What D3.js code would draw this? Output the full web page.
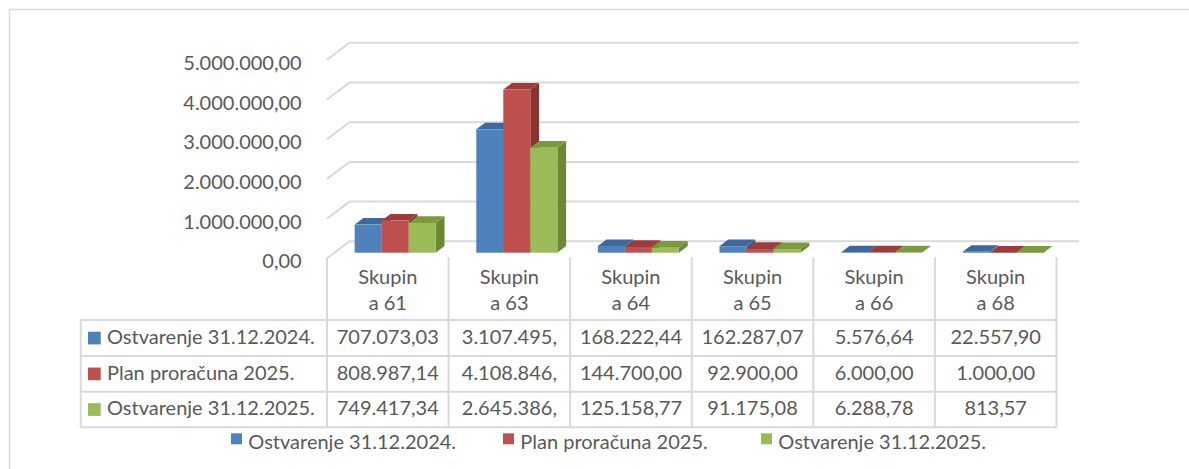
<!DOCTYPE html>
<html><head><meta charset="utf-8">
<script src="https://cdn.jsdelivr.net/npm/d3@7"></script>
<style>
body{margin:0;background:#fff}
svg{display:block}
text{font-family:Lato,"Noto Sans",sans-serif;fill:#595959;font-size:20px}
</style>
</head><body>
<svg id="c" width="1189" height="469"></svg>
<script>
// ---- data ----
const categories = ["Skupina 61","Skupina 63","Skupina 64","Skupina 65","Skupina 66","Skupina 68"];
const seriesNames = ["Ostvarenje 31.12.2024.","Plan proračuna 2025.","Ostvarenje 31.12.2025."];
const ostvarenje2024 = [707073.03, 3107495, 168222.44, 162287.07, 5576.64, 22557.90];
const plan2025 = [808987.14, 4108846, 144700.00, 92900.00, 6000.00, 1000.00];
const ostvarenje2025 = [749417.34, 2645386, 125158.77, 91175.08, 6288.78, 813.57];
const labels2024 = ["707.073,03","3.107.495,","168.222,44","162.287,07","5.576,64","22.557,90"];
const labelsPlan2025 = ["808.987,14","4.108.846,","144.700,00","92.900,00","6.000,00","1.000,00"];
const labels2025 = ["749.417,34","2.645.386,","125.158,77","91.175,08","6.288,78","813,57"];
const yTicks = [0,1000000,2000000,3000000,4000000,5000000];
const colors = ["#4f81bd","#c0504d","#9bbb59"];
const topColors = ["#3d689c","#9a3d3b","#7b9a3f"];
const sideColors = ["#365d8c","#8a3432","#6b8834"];

const seriesValues = [ostvarenje2024, plan2025, ostvarenje2025];
const seriesLabels = [labels2024, labelsPlan2025, labels2025];

const svg = d3.select("#c");
const loc = d3.formatLocale({decimal:",",thousands:".",grouping:[3],currency:["",""]});
const fmt = loc.format(",.2f");

// outer frame
svg.append("rect").attr("x",9.5).attr("y",9.5).attr("width",1200).attr("height",480)
  .attr("fill","none").attr("stroke","#d9d9d9").attr("stroke-width",1.5);

// ---- geometry ----
const frontLeft = 327, frontRight = 1056.5;
const depth = [22.5, -17];
const floorFrontY = 258.3;
const backY0 = floorFrontY + depth[1];
const x = d3.scaleBand().domain(categories).range([frontLeft, frontRight]);
const xs = d3.scaleBand().domain(d3.range(3)).range([0, x.bandwidth()]).paddingInner(0).paddingOuter(0.75);
const yH = d3.scaleLinear().domain([0,5000000]).range([0, 5*39.7]);

// gridlines (back wall + left wall diagonals)
const grid = svg.append("g").attr("stroke","#d9d9d9").attr("stroke-width",2).attr("fill","none");
yTicks.forEach(v => {
  const yb = backY0 - yH(v);
  grid.append("line").attr("x1",frontLeft+depth[0]).attr("x2",frontRight+depth[0]).attr("y1",yb).attr("y2",yb);
  grid.append("line").attr("x1",frontLeft).attr("y1",yb-depth[1]).attr("x2",frontLeft+depth[0]).attr("y2",yb);
});

// y labels
svg.append("g").selectAll("text").data(yTicks).join("text")
  .attr("x",301.7).attr("y",v => backY0 - yH(v) - depth[1] + 2)
  .attr("text-anchor","end").attr("dominant-baseline","central")
  .text(v => fmt(v));

// bars
const tFront = 0.33, tBack = 0.72;
const baseFront = floorFrontY + tFront*depth[1];
const dx = (tBack - tFront)*depth[0], dy = (tBack - tFront)*depth[1];
const bars = svg.append("g");
categories.forEach((c, ci) => {
  seriesValues.forEach((vals, si) => {
    const x0 = x(c) + xs(si) + tFront*depth[0];
    const w = xs.bandwidth();
    const h = yH(vals[ci]);
    const yt = baseFront - h;
    bars.append("polygon")
      .attr("points",[[x0+w,yt],[x0+w+dx,yt+dy],[x0+w+dx,baseFront+dy],[x0+w,baseFront]].map(p=>p.join(",")).join(" "))
      .attr("fill",sideColors[si]);
    bars.append("polygon")
      .attr("points",[[x0,yt],[x0+w,yt],[x0+w+dx,yt+dy],[x0+dx,yt+dy]].map(p=>p.join(",")).join(" "))
      .attr("fill",topColors[si]);
    bars.append("rect").attr("x",x0).attr("y",yt).attr("width",w).attr("height",h)
      .attr("fill",colors[si]);
  });
});

// ---- data table ----
const tableLeft = 80.7, headerTop = 257.3;
const rowEdges = [320, 356, 391.7, 427.3];
const tg = svg.append("g");
const lines = tg.append("g").attr("stroke","#d9d9d9").attr("stroke-width",2);
rowEdges.forEach(y => lines.append("line").attr("x1",tableLeft).attr("x2",frontRight).attr("y1",y).attr("y2",y));
lines.append("line").attr("x1",tableLeft).attr("x2",tableLeft).attr("y1",rowEdges[0]).attr("y2",rowEdges[3]);
categories.forEach(c => lines.append("line").attr("x1",x(c)).attr("x2",x(c)).attr("y1",headerTop).attr("y2",rowEdges[3]));
lines.append("line").attr("x1",frontRight).attr("x2",frontRight).attr("y1",headerTop).attr("y2",rowEdges[3]);

// header
categories.forEach(c => {
  const cx = x(c) + x.bandwidth()/2;
  tg.append("text").attr("x",cx).attr("y",284.3).attr("text-anchor","middle").text(c.slice(0,6));
  tg.append("text").attr("x",cx).attr("y",310).attr("text-anchor","middle").text(c.slice(6));
});
// rows
seriesNames.forEach((s, si) => {
  const top = rowEdges[si];
  const mid = (rowEdges[si] + rowEdges[si+1]) / 2;
  tg.append("rect").attr("x",88).attr("y",mid-6.3).attr("width",12.7).attr("height",12.7).attr("fill",colors[si]);
  tg.append("text").attr("x",107).attr("y",top+23.5).text(s);
  categories.forEach((c, ci) => {
    tg.append("text").attr("x",x(c)+x.bandwidth()/2).attr("y",top+23.5).attr("text-anchor","middle")
      .text(seriesLabels[si][ci]);
  });
});

// ---- legend ----
const legendX = [231, 503, 761];
const lg = svg.append("g");
seriesNames.forEach((s, si) => {
  lg.append("rect").attr("x",legendX[si]).attr("y",433.3).attr("width",11).attr("height",11).attr("fill",colors[si]);
  lg.append("text").attr("x",legendX[si]+17.3).attr("y",449).text(s);
});
</script>
</body></html>
